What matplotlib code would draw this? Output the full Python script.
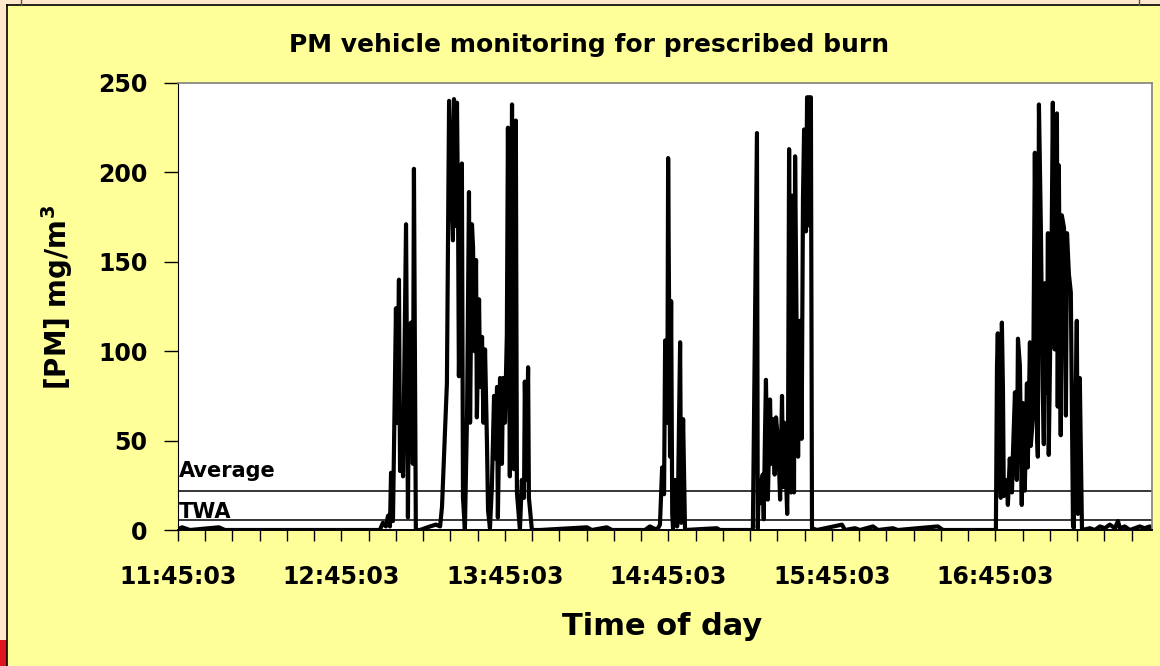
import matplotlib
matplotlib.use('Agg')
import matplotlib.pyplot as plt
import numpy as np
from matplotlib.patches import Rectangle
from matplotlib.lines import Line2D

# minutes after 11:45:03 and PM reading (mg/m3)
minutes = [0.0, 1.5, 4.4, 15.0, 17.2, 74.1, 75.2, 76.3, 77.1, 77.8, 78.2, 78.9, 80.0, 80.4, 81.1,
           81.5, 82.2, 82.6, 83.7, 84.4, 84.8, 85.5, 86.2, 86.6, 87.3,
           88.8, 90.6, 92.5, 94.7, 96.2, 96.9, 98.7, 99.5, 100.2, 100.9, 101.3, 101.8, 102.4, 102.8,
           103.1, 104.2, 104.6, 105.3, 106.1, 106.8, 107.2, 107.9, 108.3, 108.8, 109.4, 109.7, 110.5,
           110.9, 111.6, 112.1, 112.7, 113.4, 113.8, 114.5, 115.2, 116.0, 116.5, 117.1, 117.4, 118.2,
           118.9, 119.3, 120.0, 120.7, 121.1, 121.8, 122.6, 123.3, 124.0, 124.4, 125.5, 126.2, 127.0,
           127.3, 127.9, 128.5, 128.8, 129.9,
           132.9, 150.1, 151.9, 157.4, 159.3, 171.4, 173.2, 175.1, 176.2, 176.9, 177.7, 178.4, 178.8,
           179.6, 179.9, 180.6, 181.0, 181.4, 181.7, 182.5, 183.2, 183.6, 184.3, 184.7, 185.4, 186.1,
           197.8, 198.9, 211.0, 212.5, 212.8, 213.2, 213.9, 214.6, 215.0, 215.4, 215.8, 216.5, 217.3,
           217.8, 218.4, 219.0, 219.5, 220.3, 221.0, 221.7, 222.1, 222.5, 223.6, 223.9, 224.3, 225.0,
           225.4, 226.1, 226.5, 227.2, 227.6, 228.3, 228.9, 229.4, 229.8, 230.5, 230.9, 231.6, 232.0,
           232.3, 232.7, 234.5,
           243.7, 244.8, 248.5, 250.3, 255.1, 256.9, 262.4, 264.2, 278.9, 280.8, 299.5,
           300.2, 300.6, 300.9, 301.5, 302.0, 302.4, 302.8, 303.1, 304.2, 304.6, 305.3, 306.1, 306.4,
           307.2, 307.9, 308.3, 309.0, 309.7, 310.1, 310.8, 311.6, 311.9, 312.7, 313.0, 313.8, 314.2,
           314.5, 315.3, 315.6, 316.0, 316.7, 317.4, 317.8, 318.2, 318.9, 319.3, 319.6, 320.7, 321.1,
           321.8, 322.6, 322.9, 323.3, 324.0, 324.4, 325.2, 325.9, 326.3, 327.0, 327.7, 328.5, 328.8,
           329.9, 330.3, 331.0, 331.8,
           334.7, 336.5, 338.4, 340.2, 342.0, 343.9, 345.0, 345.7, 347.5, 349.4, 353.0, 354.8, 356.7, 357.4]
pm = [0.5, 1.5, 0, 1.5, 0, 0, 4, 2, 8, 2, 32, 5, 124, 60, 140,
      33, 45, 30, 171, 7, 99, 116, 37, 202, 0,
      0, 1, 2, 3, 2, 13, 82, 240, 200, 162, 241, 170, 239, 175,
      86, 205, 18, 0, 65, 189, 60, 171, 158, 100, 151, 63, 129,
      80, 108, 60, 101, 49, 11, 1, 24, 75, 40, 80, 7, 85,
      37, 85, 60, 109, 225, 30, 238, 34, 229, 21, 0, 28, 18,
      83, 28, 91, 18, 0,
      0, 1.5, 0, 1.5, 0, 0, 2, 0.5, 1, 3, 35, 20, 106,
      60, 208, 41, 128, 9, 1, 28, 2, 27, 105, 4, 62, 0,
      1, 0, 0, 222, 1, 28, 15, 31, 6, 49, 84, 17, 73,
      37, 62, 31, 63, 49, 17, 75, 24, 60, 9, 47, 213, 21,
      187, 21, 209, 88, 41, 117, 51, 186, 224, 167, 242, 242, 170,
      242, 1, 0,
      3, 0, 1, 0, 2, 0, 1, 0, 2, 0, 0,
      0, 91, 110, 45, 18, 116, 78, 19, 28, 14, 40, 21, 40,
      77, 28, 107, 92, 14, 71, 22, 82, 35, 105, 47, 63, 151,
      211, 54, 41, 238, 170, 78, 48, 138, 77, 166, 42, 168, 239,
      101, 233, 69, 204, 53, 176, 169, 64, 166, 143, 133, 3, 1,
      117, 9, 85, 0,
      1, 0, 2, 1, 3, 1, 5, 1, 2, 0, 2, 1, 2, 1]

average_pm = 22.0
twa_pm = 5.6
tick_minutes = [0, 60, 120, 180, 240, 300]
tick_labels = ['11:45:03', '12:45:03', '13:45:03', '14:45:03', '15:45:03', '16:45:03']

W, H = 1160, 666
fig = plt.figure(figsize=(11.6, 6.66), dpi=100)
fig.patch.set_facecolor('#FFFF99')

# frame decoration around the slide panel
fig.add_artist(Rectangle((0, 1 - 5 / H), 1, 5 / H, transform=fig.transFigure,
                         facecolor='#FFE8CC', edgecolor='none'))
fig.add_artist(Rectangle((0, 0), 7 / W, 1, transform=fig.transFigure,
                         facecolor='#FFE8CC', edgecolor='none'))
fig.add_artist(Rectangle((0, 0), 7 / W, 26 / H, transform=fig.transFigure,
                         facecolor='#E0141E', edgecolor='none'))
fig.add_artist(Line2D([7 / W, 7 / W], [0, 1 - 5 / H], transform=fig.transFigure, color='black', lw=1.2))
fig.add_artist(Line2D([7 / W, 1], [1 - 5 / H, 1 - 5 / H], transform=fig.transFigure, color='black', lw=1.2))
for xp in [21, 1139]:
    fig.add_artist(Line2D([xp / W, xp / W], [1 - 5 / H, 1], transform=fig.transFigure,
                          color='#555555', lw=1))

ax = fig.add_axes([178 / W, 1 - 530 / H, (1152 - 178) / W, (530 - 83) / H])
ax.set_facecolor('white')

ax.axhline(average_pm, color='black', lw=1.1, zorder=1)
ax.axhline(twa_pm, color='black', lw=1.1, zorder=1)
ax.plot(minutes, pm, color='black', lw=3.0, solid_joinstyle='round', solid_capstyle='round', zorder=2)

ax.text(0.5, 29.8, 'Average', fontsize=15, fontweight='bold', va='baseline', ha='left')
ax.text(0.5, 6.6, 'TWA', fontsize=15, fontweight='bold', va='baseline', ha='left')

ax.set_xlim(0, 357.5)
ax.set_ylim(0, 250)
ax.set_yticks([0, 50, 100, 150, 200, 250])
ax.set_xticks(np.arange(0, 358, 10), minor=True)
ax.set_xticks(tick_minutes)
ax.set_xticklabels(tick_labels)
ax.tick_params(axis='x', which='both', length=8, width=1, direction='out', pad=17,
               labelsize=17)
ax.tick_params(axis='y', length=10, width=1, direction='out', pad=12, labelsize=17)
for lab in ax.get_xticklabels() + ax.get_yticklabels():
    lab.set_fontweight('bold')

for side in ['top', 'right']:
    ax.spines[side].set_color('#808080')
    ax.spines[side].set_linewidth(1.2)
ax.spines['left'].set_color('black')
ax.spines['bottom'].set_color('black')
ax.spines['bottom'].set_linewidth(1.4)

fig.text(589 / W, 1 - 52 / H, 'PM vehicle monitoring for prescribed burn', fontsize=18,
         fontweight='bold', ha='center', va='baseline')
fig.text(662 / W, 1 - 635 / H, 'Time of day', fontsize=22, fontweight='bold',
         ha='center', va='baseline')
fig.text(57 / W, 1 - 297 / H, r'[PM] mg/m$^\mathbf{3}$', fontsize=20, fontweight='bold',
         ha='center', va='center', rotation=90)

fig.savefig('out.png', dpi=100, facecolor=fig.get_facecolor())
